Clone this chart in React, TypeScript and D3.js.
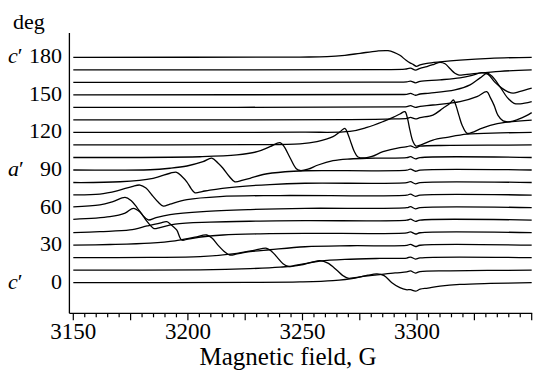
import React, { useRef, useEffect } from "react";
import { select, scaleLinear, line, curveCatmullRom, range } from "d3";

// angle of each spectrum, deg
const angles = [0, 10, 20, 30, 40, 50, 60, 70, 80, 90, 100, 110, 120, 130, 140, 150, 160, 170, 180];

// spectra: [field G, signal a.u.] (1 a.u. = 1 deg of offset)
const spec0 = [[3150, 0], [3227.1, 0.2], [3248.9, 0.6], [3263.3, 1.6], [3272.9, 3.6], [3278.6, 6], [3282.5, 7], [3285.6, 5.6], [3289, 0], [3292.5, -4], [3295.2, -5.6], [3297.1, -5.6], [3299.3, -6.8], [3301.3, -5.2], [3304.7, -4.3], [3310, -2.8], [3318.7, -1.4], [3331.9, -0.6], [3350, 0]];
const spec10 = [[3150, 0], [3205.3, 0.2], [3227.1, 1.2], [3240.2, 2.4], [3248.9, 4], [3254.1, 6.4], [3257.6, 7.6], [3261.1, 5.6], [3265, 0], [3267.7, -4.4], [3269.8, -6.4], [3272.9, -6], [3277.3, -4.8], [3282.5, -3.8], [3290.4, -2.2], [3295.5, -1.4], [3297.1, -0.6], [3299.3, -2.3], [3301.3, -1.1], [3314.4, -0.5], [3350, 0]];
const spec20 = [[3150, 0], [3183.5, 0.2], [3205.3, 0.8], [3221.4, 3.5], [3229.3, 6], [3234.4, 7.5], [3236.7, 4.8], [3238.9, 0.4], [3241.5, -4.8], [3244.1, -7.2], [3246.7, -6.2], [3251.1, -4.8], [3257.6, -2.8], [3268.5, -1.4], [3283.8, -0.6], [3295.5, -0.3], [3297.1, 0.5], [3299.3, -1.1], [3301.3, -0.2], [3350, 0]];
const spec30 = [[3150, 0], [3166, 0.5], [3183.5, 1.6], [3194.4, 3.4], [3203.1, 6.4], [3208.2, 8.1], [3210.5, 5.6], [3213.1, 0], [3215.7, -4.8], [3218.3, -7.9], [3221.4, -7], [3227.1, -5.2], [3235.8, -3.7], [3251.1, -1.3], [3270.7, -0.5], [3295.5, -0.2], [3297.1, 0.6], [3299.3, -1.1], [3301.3, -0.1], [3350, 0]];
const spec40 = [[3150, 0], [3161.6, 0.8], [3174.7, 2.1], [3182.2, 5.3], [3187.8, 7.6], [3190.8, 8.7], [3192.6, 6.4], [3195.1, 2.1], [3197.3, -5.9], [3200, -5.2], [3206.6, -3.3], [3215.3, -1.9], [3231.5, -1], [3251.1, -0.6], [3295.5, -0.2], [3297.1, 0.6], [3299.3, -1.1], [3301.3, -0.1], [3350, 0]];
const spec50 = [[3150, 0.6], [3166, 2.7], [3172.6, 5.6], [3176.2, 9.4], [3179.1, 6.4], [3181.7, 0], [3183.5, -4], [3185.2, -6.8], [3187.8, -6], [3194.4, -3.2], [3209.6, -1.6], [3231.5, -0.8], [3251.1, -0.4], [3295.5, -0.1], [3297.1, 0.7], [3299.3, -1], [3301.3, 0], [3350, 0]];
const spec60 = [[3150, 0.6], [3161.6, 2.1], [3167.3, 4.8], [3172.6, 8.2], [3175.2, 5.6], [3177.8, 0], [3180.4, -6.4], [3182.7, -9.9], [3186.1, -8], [3192.2, -5.6], [3206.6, -3.2], [3227.1, -1.6], [3251.1, -0.6], [3295.5, -0.1], [3297.1, 0.7], [3299.3, -1], [3301.3, -0.1], [3350, 0]];
const spec70 = [[3150, 0.2], [3161.6, 0.8], [3169.1, 3.4], [3175.6, 6.8], [3179.1, 8], [3181.7, 5.6], [3184.3, 0], [3187, -5.6], [3189.3, -8.8], [3192.2, -7.2], [3199.6, -3.6], [3214, -1.2], [3240.2, -0.4], [3295.5, -0.1], [3297.1, 0.7], [3299.3, -1], [3301.3, -0.1], [3350, 0]];
const spec80 = [[3150, 0], [3170.4, 0.6], [3184.8, 3.4], [3192.2, 7.4], [3195.1, 8.2], [3197.4, 4.8], [3199.6, 0.4], [3201.4, -4.8], [3203.1, -8.2], [3206.2, -7.2], [3209.6, -6], [3221.4, -3.4], [3235.8, -1.6], [3251.1, -0.6], [3295.5, -0.1], [3297.1, 0.7], [3299.3, -1], [3301.3, -0.1], [3350, 0]];
const spec90 = [[3150, 0], [3183.5, 0.2], [3192.2, 1.4], [3199.6, 3.2], [3206.6, 6.6], [3210.4, 9.4], [3213.1, 5.6], [3215.3, 1.4], [3217.9, -4.8], [3220.5, -9.4], [3224, -8], [3227.1, -6.6], [3232.8, -3.6], [3242.4, -1.4], [3251.1, -0.6], [3295.5, -0.1], [3297.1, 0.7], [3299.3, -1], [3301.3, -0.1], [3350, 0]];
const spec100 = [[3150, 0], [3205.3, 0.6], [3221.4, 2], [3230.2, 4.6], [3235.8, 8.6], [3240.2, 11.8], [3241.9, 8.8], [3244.5, 0], [3247.2, -8.8], [3248.9, -10.4], [3252.4, -9.4], [3256.8, -6], [3263.3, -2.6], [3270.7, -1.2], [3278.1, -0.6], [3295.5, -0.2], [3297.1, 0.6], [3299.3, -1.1], [3301.3, -0.1], [3350, 0]];
const spec110 = [[3150, 0], [3227.1, 0.2], [3248.9, 0.8], [3256.3, 2.6], [3263.3, 6.6], [3266.4, 10.6], [3268.5, 13.3], [3269.8, 8.8], [3271.2, 1.6], [3272.5, -4.8], [3274.2, -9.6], [3277.3, -10.4], [3280.3, -9.2], [3285.1, -5.4], [3292.5, -2.1], [3295.6, -1.4], [3297.1, -0.7], [3299.3, -2.3], [3301.3, -1], [3314.4, -0.4], [3350, 0]];
const spec120 = [[3150, 0], [3248.9, 0.2], [3270.7, 0.8], [3278.1, 4], [3285.1, 8.6], [3289.5, 12], [3292.5, 14.7], [3294.7, 16.6], [3295.8, 11.2], [3296.9, 1.6], [3298.2, -7.2], [3299.5, -10.9], [3301.7, -9.9], [3306.9, -6.1], [3313.1, -3.9], [3321.8, -1.4], [3336.2, -0.4], [3350, 0]];
const spec130 = [[3150, 0], [3270.7, 0.2], [3290.4, 0.8], [3295.6, 1.2], [3297.1, 2], [3299.3, 0.8], [3301.3, 1.8], [3306.9, 3.9], [3311.3, 9.3], [3314.4, 13.3], [3315.8, 15.9], [3317, 11.2], [3318.3, 3.2], [3319.6, -4], [3321.8, -10.7], [3324, -10], [3327.5, -7.2], [3331.9, -4.4], [3338.4, -2], [3350, -0.2]];
const spec140 = [[3150, 0], [3292.5, 0.4], [3295.6, 0.6], [3297.1, 1.4], [3299.3, 0], [3301.3, 0.8], [3306.9, 1.9], [3318.7, 4.6], [3326.1, 8.6], [3330.4, 12.6], [3331.9, 8], [3333.6, 1.6], [3335.3, -6.4], [3337.5, -10.8], [3340.6, -11.4], [3344, -9.6], [3347.5, -6.8], [3350, -4.2]];
const spec150 = [[3150, 0], [3292.5, 0.3], [3295.5, 0.4], [3297.1, 1.2], [3299.3, -0.3], [3301.3, 0.7], [3305.6, 1.4], [3316.5, 4], [3323.1, 8], [3327.5, 13.6], [3330.6, 17.3], [3332.7, 14.8], [3336.2, 6.4], [3339.3, -2], [3342.3, -6.8], [3345, -7.2], [3350, -5.4]];
const spec160 = [[3150, 0], [3280, 0.1], [3292.5, 0.2], [3295.5, 0.3], [3297.1, 1], [3299.3, -0.4], [3301.3, 0.8], [3310, 2], [3318.7, 3.6], [3324, 5.6], [3328.3, 7.8], [3331, 6.4], [3334, 0], [3337.1, -4.8], [3339.7, -7.6], [3341.9, -8.6], [3345, -7.2], [3350, -4.6]];
const spec170 = [[3150, 0], [3283.8, 0.2], [3294.7, 0.5], [3297.1, 1.3], [3299.3, -0.2], [3301.3, 1.2], [3304.3, 2.6], [3307.4, 4.4], [3310, 6], [3312.2, 4.8], [3314.4, 0.8], [3316.5, -2.8], [3318.3, -4.2], [3320.9, -3.8], [3326.1, -2.8], [3336.2, -1.2], [3350, 0]];
const spec180 = [[3150, 0], [3248.9, 0.2], [3260.7, 0.5], [3268.5, 1.6], [3275.1, 3.2], [3282.5, 5], [3287.3, 5.3], [3289.9, 4], [3292.5, 1.6], [3295.2, -2.4], [3297.1, -4.6], [3298.2, -5.6], [3299.7, -7.2], [3301.3, -6], [3304.3, -4.8], [3310, -3.6], [3318.7, -2.2], [3331.9, -0.8], [3350, 0]];

const spectra = [spec0, spec10, spec20, spec30, spec40, spec50, spec60, spec70, spec80, spec90,
  spec100, spec110, spec120, spec130, spec140, spec150, spec160, spec170, spec180];

// axis text
const angleTicks = [0, 30, 60, 90, 120, 150, 180];
const axisNames = [["c", 180], ["a", 90], ["c", 0]];
const fieldTicks = [3150, 3200, 3250, 3300];

const W = 534;
const H = 370;
const FONT = "Liberation Serif, DejaVu Serif, Times, serif";

function EprChart() {
  const svgRef = useRef(null);

  useEffect(() => {
    document.body.style.margin = "0";
    const svg = select(svgRef.current);
    svg.selectAll("*").remove();

    const x = scaleLinear().domain([3150, 3350]).range([73.3, 531.7]);
    const y = scaleLinear().domain([0, 180]).range([282.7, 57.3]);
    const axisX = x(3148.3);
    const axisY = 313.3;

    // stacked spectra, each shifted to its angle
    svg
      .selectAll(".trace")
      .data(spectra)
      .join("path")
      .attr("class", "trace")
      .attr("fill", "none")
      .attr("stroke", "#000")
      .attr("stroke-width", 1.3)
      .attr("stroke-linejoin", "round")
      .attr("d", (s, i) =>
        line()
          .x((d) => x(d[0]))
          .y((d) => y(angles[i] + d[1]))
          .curve(curveCatmullRom.alpha(0.5))(s)
      );

    // axes lines
    svg.append("line").attr("x1", axisX).attr("x2", axisX).attr("y1", 33).attr("y2", axisY)
      .attr("stroke", "#000").attr("stroke-width", 1.3);
    svg.append("line").attr("x1", axisX).attr("x2", x(3350) + 0.5).attr("y1", axisY).attr("y2", axisY)
      .attr("stroke", "#000").attr("stroke-width", 1.3);

    // field ticks: minor every 5 G, major every 25 G
    svg
      .selectAll(".tick")
      .data(range(3150, 3351, 5))
      .join("line")
      .attr("class", "tick")
      .attr("x1", (d) => x(d))
      .attr("x2", (d) => x(d))
      .attr("y1", axisY)
      .attr("y2", (d) => axisY + (d % 25 === 0 ? 7 : 4))
      .attr("stroke", "#000")
      .attr("stroke-width", 1.2);

    svg
      .selectAll(".flabel")
      .data(fieldTicks)
      .join("text")
      .attr("class", "flabel")
      .attr("x", (d) => x(d))
      .attr("y", 339)
      .attr("text-anchor", "middle")
      .style("font-family", FONT)
      .style("font-size", "23px")
      .text((d) => d);

    svg.append("text")
      .attr("x", 288)
      .attr("y", 365)
      .attr("text-anchor", "middle")
      .style("font-family", FONT)
      .style("font-size", "25px")
      .text("Magnetic field, G");

    // angle labels
    svg
      .selectAll(".alabel")
      .data(angleTicks)
      .join("text")
      .attr("class", "alabel")
      .attr("x", 62)
      .attr("y", (d) => y(d) + 6)
      .attr("text-anchor", "end")
      .style("font-family", FONT)
      .style("font-size", "22px")
      .text((d) => d);

    const names = svg
      .selectAll(".aname")
      .data(axisNames)
      .join("text")
      .attr("class", "aname")
      .attr("x", 8)
      .attr("y", (d) => y(d[1]) + 6)
      .style("font-family", FONT)
      .style("font-size", "22px");
    names.append("tspan").attr("font-style", "italic").text((d) => d[0]);
    names.append("tspan").text("\u2032");

    svg.append("text")
      .attr("x", 13)
      .attr("y", 29)
      .style("font-family", FONT)
      .style("font-size", "22px")
      .text("deg");
  }, []);

  return <svg ref={svgRef} width={W} height={H} style={{ display: "block", background: "#fff" }}></svg>;
}

export default function App() {
  return <EprChart />;
}
